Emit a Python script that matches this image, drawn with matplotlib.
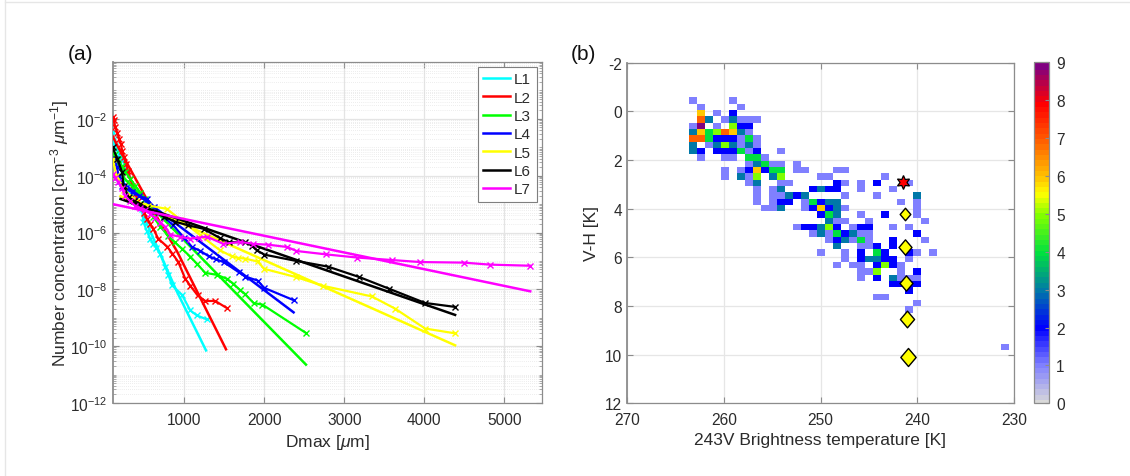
import numpy as np
import matplotlib
matplotlib.use("Agg")
import matplotlib.pyplot as plt
from matplotlib.colors import LinearSegmentedColormap
from matplotlib.lines import Line2D
from matplotlib.path import Path
from matplotlib.ticker import NullFormatter

plt.rcParams['font.family'] = ['Liberation Sans', 'DejaVu Sans']
plt.rcParams['mathtext.fontset'] = 'custom'
plt.rcParams['mathtext.rm'] = 'Liberation Sans'
plt.rcParams['mathtext.it'] = 'Liberation Sans:italic'
plt.rcParams['mathtext.default'] = 'regular'

W, H = 1130, 477
names = ['L1', 'L2', 'L3', 'L4', 'L5', 'L6', 'L7']
colors = ['#00ffff', '#ff0000', '#00ff00', '#0000ff', '#ffff00', '#000000', '#ff00ff']

# measured spectra: Dmax [um], log10 concentration
m1_x = [100, 115, 135, 165, 198, 235, 265, 300, 344, 385, 430, 470, 485, 530, 572, 610, 650, 697, 760, 800, 844, 969, 1072, 1156, 1281]
m1_y = [-2.46, -2.7, -2.94, -3.15, -3.41, -4.22, -4.4, -4.55, -4.70, -4.85, -5.0, -5.17, -5.62, -5.95, -6.22, -6.4, -6.55, -6.75, -7.2, -7.5, -7.86, -8.19, -8.74, -8.92, -9.06]
m2_x = [100, 115, 135, 160, 185, 205, 222, 245, 272, 295, 322, 350, 385, 420, 460, 495, 531, 570, 610, 672, 785, 850, 922, 1010, 1072, 1164, 1260, 1385, 1531]
m2_y = [-1.93, -2.05, -2.28, -2.5, -2.71, -2.9, -3.13, -3.35, -3.59, -3.85, -4.11, -4.35, -4.64, -4.9, -5.1, -5.3, -5.52, -5.7, -5.87, -6.22, -6.5, -6.75, -7.03, -7.63, -7.87, -8.21, -8.41, -8.41, -8.66]
m3_x = [100, 135, 172, 215, 260, 320, 385, 450, 510, 560, 610, 700, 797, 880, 969, 1072, 1156, 1260, 1406, 1531, 1610, 1689, 1751, 1864, 1976, 2522]
m3_y = [-3.12, -3.25, -3.41, -3.65, -3.87, -4.1, -4.36, -4.6, -4.82, -5.15, -5.45, -5.8, -6.12, -6.35, -6.57, -6.85, -7.1, -7.42, -7.49, -7.63, -7.8, -8.01, -8.15, -8.48, -8.54, -9.54]
m4_x = [135, 155, 177, 198, 219, 270, 344, 430, 531, 620, 740, 860, 1000, 1094, 1198, 1301, 1400, 1489, 1676, 1760, 1914, 1998, 2373]
m4_y = [-3.41, -3.7, -4.0, -4.2, -4.35, -4.45, -4.58, -4.7, -4.82, -5.1, -5.45, -5.75, -6.2, -6.51, -6.65, -6.83, -6.95, -7.04, -7.39, -7.55, -7.69, -7.95, -8.39]
m5_x = [100, 150, 250, 400, 550, 781, 950, 1200, 1447, 1594, 1664, 1760, 1914, 1998, 2397, 2739, 3344, 3635, 4010, 4389]
m5_y = [-3.4, -4.0, -4.5, -4.9, -5.05, -5.17, -5.55, -6.1, -6.63, -6.84, -6.89, -6.92, -7.02, -7.28, -7.57, -7.88, -8.25, -8.68, -9.38, -9.55]
m6_x = [100, 160, 219, 239, 301, 370, 447, 530, 614, 750, 885, 1050, 1239, 1447, 1551, 1760, 1844, 1906, 2001, 2397, 2794, 3189, 3560, 4010, 4389]
m6_y = [-3.0, -3.4, -3.87, -4.35, -4.76, -4.88, -4.99, -5.15, -5.28, -5.45, -5.62, -5.75, -5.87, -6.2, -6.34, -6.34, -6.46, -6.63, -6.78, -7.0, -7.2, -7.57, -7.98, -8.48, -8.62]
m7_x = [100, 135, 173, 215, 260, 320, 385, 450, 510, 575, 635, 700, 760, 823, 950, 1070, 1180, 1285, 1485, 1700, 1860, 2050, 2285, 2400, 2770, 3155, 3600, 3950, 4495, 4820, 5325]
m7_y = [-3.94, -4.08, -4.22, -4.45, -4.71, -4.9, -5.06, -5.15, -5.20, -5.35, -5.48, -5.65, -5.80, -6.08, -6.15, -6.22, -6.18, -6.15, -6.40, -6.33, -6.40, -6.43, -6.51, -6.65, -6.77, -6.88, -6.97, -7.04, -7.06, -7.13, -7.17]

# fitted spectra
f1_x = [100, 300, 500, 900, 1270]
f1_y = [-2.7, -3.9, -5.5, -8.05, -10.15]
f2_x = [100, 160, 572, 910, 1520]
f2_y = [-2.6, -2.94, -5.05, -6.68, -10.11]
f3_x = [100, 250, 572, 1447, 2520]
f3_y = [-3.1, -4.1, -5.05, -7.57, -10.65]
f4_x = [100, 2365]
f4_y = [-4.0, -8.81]
f5_x = [200, 4385]
f5_y = [-4.72, -9.97]
f6_x = [200, 4385]
f6_y = [-4.82, -8.9]
f7_x = [100, 5325]
f7_y = [-5.0, -8.07]

meas = [(m1_x, m1_y), (m2_x, m2_y), (m3_x, m3_y), (m4_x, m4_y), (m5_x, m5_y), (m6_x, m6_y), (m7_x, m7_y)]
fits = [(f1_x, f1_y), (f2_x, f2_y), (f3_x, f3_y), (f4_x, f4_y), (f5_x, f5_y), (f6_x, f6_y), (f7_x, f7_y)]

# 2D histogram cells (row, column, count)
cell_rows = [0,0, 1,1, 2,2,2, 3,3,3,3,3,3,3, 4,4,4,4,4,4,
             5,5,5,5,5,5,5,5, 6,6,6,6,6,6,6,6,6, 7,7,7,7,7,7,7,7,
             8,8,8,8,8,8,8,8,8, 9,9,9,9,9,9, 10,10,10,10,10,10,
             11,11,11,11,11,11,11,11,11,11,11, 12,12,12,12,12,12,12,12,12,
             13,13,13,13,13,13,13,13,13, 14,14,14,14,14,14,14,14,14,
             15,15,15,15,15,15,15,15,15, 16,16,16,16,16,16,16,16,16,16,16,
             17,17,17,17,17,17,17,17,17,17, 18,18,18,18,18,18,
             19,19,19,19,19, 20,20,20,20,20,20,20,20,20,20,20,
             21,21,21,21,21,21,21,21,21, 22,22,22,22,22,22,22,22,
             23,23,23,23,23, 24,24,24,24,24,24,24,24,
             25,25,25,25,25,25,25, 26,26,26,26,26,26,26,
             27,27,27,27,27, 28,28,28,28,28,28, 29,29,29,29, 30, 31,31, 32, 33, 39]
cell_cols = [0,5, 1,6, 1,3,5, 1,2,4,5,6,7,8, 0,1,3,5,6,7,
             0,1,2,3,4,5,6,7, 0,1,2,3,4,5,6,7,8, 0,2,3,4,5,6,7,8,
             0,1,3,4,5,6,7,8,11, 1,4,5,7,8,9, 7,8,9,10,11,13,
             4,6,7,8,9,10,11,13,14,18,19, 4,6,7,8,10,11,16,17,24,
             7,8,11,12,18,19,21,23,27, 8,10,11,15,16,17,18,21,25,
             8,10,11,12,13,14,19,23,28, 8,10,11,12,14,15,16,17,18,26,28,
             9,10,11,14,15,16,17,18,19,28, 16,17,18,21,24,28,
             17,18,19,22,29, 13,14,15,16,17,18,20,21,22,25,27,
             15,16,17,18,19,20,21,22,28, 17,18,19,20,21,22,25,29,
             18,21,22,23,25, 16,19,21,23,24,27,28,30,
             19,21,22,23,24,25,27, 18,20,21,23,24,25,26,
             21,22,23,26,28, 21,23,25,26,27,28, 25,26,27,28, 27, 23,24, 28, 27, 39]
cell_vals = [1,1, 1,1, 6,1,2, 7,3,1,3,1,1,1, 1,9,1,5,2,2,
             3,6,4,5,7,6,3,1, 7,7,4,2,2,2,1,4,1, 3,1,3,5,3,1,3,1,
             3,2,2,2,2,4,1,2,1, 1,1,1,4,4,1, 1,3,4,1,1,1,
             1,1,2,6,2,4,4,1,1,1,1, 1,3,1,5,3,5,1,1,1,
             1,3,1,1,2,1,1,2,1, 1,1,3,2,3,2,2,1,1,
             1,1,1,3,2,3,1,1,3, 1,1,2,2,1,4,2,3,3,1,1,
             1,1,3,1,2,6,2,3,1,1, 2,4,3,1,2,1,
             3,1,1,1,1, 1,2,2,3,5,2,1,2,2,1,1,
             1,3,1,4,2,3,1,1,2, 1,2,3,1,4,1,2,1,
             3,1,1,2,2, 1,1,2,4,2,2,1,1,
             1,2,3,3,2,2,1, 1,1,1,2,5,2,1,
             1,1,5,1,2, 1,2,3,1,1,1, 2,2,2,2, 2, 1,1, 1, 1, 1]

star_x, star_y = [241.46], [2.91]
diamond_x = [241.3, 241.3, 241.2, 241.07, 241.0]
diamond_y = [4.21, 5.57, 7.04, 8.54, 10.1]
diamond_s = [9, 11, 11, 12, 13]

xt_a = [1000, 2000, 3000, 4000, 5000]
yt_a = [-12, -10, -8, -6, -4, -2]
xt_b = [270, 260, 250, 240, 230]
yt_b = [-2, 0, 2, 4, 6, 8, 10, 12]
cb_ticks = [0, 1, 2, 3, 4, 5, 6, 7, 8, 9]

SPINE = '#8c8c8c'
TXT = '#2b2b2b'
TICK_FS = 11.2
LABEL_FS = 12.5


def axpos(x0, x1, y0, y1):
    return [x0 / W, 1 - y1 / H, (x1 - x0) / W, (y1 - y0) / H]


fig = plt.figure(figsize=(W / 100, H / 100), dpi=100)
fig.patch.set_facecolor('white')
for xs, ys in [((4.5, 4.5), (0, 477)), ((4.5, 1130), (2.5, 2.5))]:
    fig.add_artist(Line2D([x / W for x in xs], [1 - y / H for y in ys], color='#e6e6e6', lw=1.0))

# ---------- panel (a)
ax = fig.add_axes(axpos(112.5, 542, 63, 404))
ax.set_yscale('log')
ax.set_xlim(100, 5472)
ax.set_ylim(1e-12, 1)
ax.set_axisbelow(True)
for (xf, yf), (xm, ym), c, n in zip(fits, meas, colors, names):
    ax.plot(xf, 10.0 ** np.array(yf), color=c, lw=1.8, label=n, zorder=3)
    ax.plot(xm, 10.0 ** np.array(ym), color=c, lw=1.6, marker='x', ms=4.8, mew=1.0, zorder=3)
ax.set_xticks(xt_a)
ax.set_yticks([10.0 ** v for v in yt_a])
ax.set_yticklabels(['$10^{%d}$' % v for v in yt_a])
minor = [m * 10.0 ** d for d in range(-12, 0) for m in range(2, 10)] + [10.0 ** d for d in (-11, -9, -7, -5, -3, -1, 0)]
ax.set_yticks(minor, minor=True)
ax.yaxis.set_minor_formatter(NullFormatter())
ax.grid(True, which='major', color='#e4e4e4', lw=0.9)
ax.grid(True, which='minor', axis='y', color='#dcdcdc', lw=0.5, ls=(0, (1, 2)))
ax.tick_params(axis='both', which='major', direction='in', length=4, width=0.8, color=SPINE, labelsize=TICK_FS,
               labelcolor=TXT, top=True, right=True)
ax.tick_params(axis='x', which='major', pad=6.5)
ax.tick_params(axis='y', which='major', pad=4)
ax.tick_params(axis='y', which='minor', direction='in', length=2, width=0.5, color=SPINE, right=True)
for s in ax.spines.values():
    s.set_color(SPINE)
    s.set_linewidth(0.9)
ax.spines['left'].set_linewidth(1.3)
ax.set_xlabel(r'Dmax [$\mathit{\mu}$m]', fontsize=LABEL_FS, color=TXT, labelpad=3.5)
ax.set_ylabel(r'Number concentration [cm$^{-3}$ $\mathit{\mu}$m$^{-1}$]', fontsize=LABEL_FS, color=TXT)
ax.yaxis.set_label_coords((71 - 112.5) / 429.5, 0.5)
leg = ax.legend(loc='upper left', bbox_to_anchor=((477.5 - 112.5) / 429.5, 1 - (68 - 63) / 341), fontsize=11,
                frameon=True, fancybox=False, framealpha=1, edgecolor='#7f7f7f', borderpad=0.35, labelspacing=0.285,
                handlelength=1.75, handletextpad=0.3, borderaxespad=0)
leg.get_frame().set_linewidth(0.8)
for t in leg.get_texts():
    t.set_color(TXT)
fig.text(68 / W, 1 - 55 / H, '(a)', fontsize=15, color='#111111', va='center', ha='left')

# ---------- panel (b)
cmap = LinearSegmentedColormap.from_list('ir', [
    (0.0, '#d9d9d9'), (1 / 9, '#8080ff'), (2 / 9, '#0000ff'), (3 / 9, '#0078a8'), (4 / 9, '#00e040'),
    (5 / 9, '#80ff00'), (5.6 / 9, '#ffff00'), (6 / 9, '#ffc800'), (7 / 9, '#ff6000'), (8 / 9, '#ff0000'),
    (8.5 / 9, '#c00040'), (1.0, '#800080')], N=64)

bx = fig.add_axes(axpos(627, 1014, 63.6, 404.4))
x_edges = 263.56 - 0.8264 * np.arange(42)
y_edges = -0.574 + 0.26 * np.arange(41)
Z = np.full((40, 41), np.nan)
Z[cell_rows, cell_cols] = cell_vals
mesh = bx.pcolormesh(x_edges, y_edges, np.ma.masked_invalid(Z), cmap=cmap, vmin=0, vmax=9, zorder=2)
bx.set_xlim(270, 230)
bx.set_ylim(12, -2)
bx.set_xticks(xt_b)
bx.set_yticks(yt_b)
bx.set_yticklabels([str(v) for v in yt_b])
bx.grid(True, color='#e6e6e6', lw=0.9, zorder=1)
bx.set_axisbelow(True)
bx.tick_params(axis='both', direction='in', length=4, width=0.8, color=SPINE, labelsize=TICK_FS, labelcolor=TXT,
               top=True, right=True)
bx.tick_params(axis='x', pad=6.5)
bx.tick_params(axis='y', pad=3.5)
for s in bx.spines.values():
    s.set_color(SPINE)
    s.set_linewidth(0.9)
bx.spines['left'].set_linewidth(1.3)
bx.set_xlabel('243V Brightness temperature [K]', fontsize=LABEL_FS, color=TXT, labelpad=3.5)
bx.set_ylabel('V-H [K]', fontsize=LABEL_FS, color=TXT)
bx.yaxis.set_label_coords((599 - 627) / 387, 0.5)
dia = Path([(0, 1), (0.85, 0), (0, -1), (-0.85, 0), (0, 1)], closed=True)
for xv, yv, sv in zip(diamond_x, diamond_y, diamond_s):
    bx.plot([xv], [yv], marker=dia, ms=sv, mfc='#ffff00', mec='black', mew=1.0, ls='none', zorder=5, clip_on=False)
bx.plot(star_x, star_y, marker=(6, 1, 0), ms=10, mfc='#ff0000', mec='black', mew=0.9, ls='none', zorder=5)
fig.text(571 / W, 1 - 55 / H, '(b)', fontsize=15, color='#111111', va='center', ha='left')

cax = fig.add_axes(axpos(1034.3, 1049.3, 63.3, 404.3))
cb = fig.colorbar(mesh, cax=cax)
cb.set_ticks(cb_ticks)
cb.ax.tick_params(direction='in', length=3, width=0.8, color=SPINE, labelsize=TICK_FS, labelcolor=TXT, pad=5)
cb.outline.set_edgecolor(SPINE)
cb.outline.set_linewidth(0.9)
cb.solids.set_edgecolor('face')

fig.savefig('out.png', dpi=100)
